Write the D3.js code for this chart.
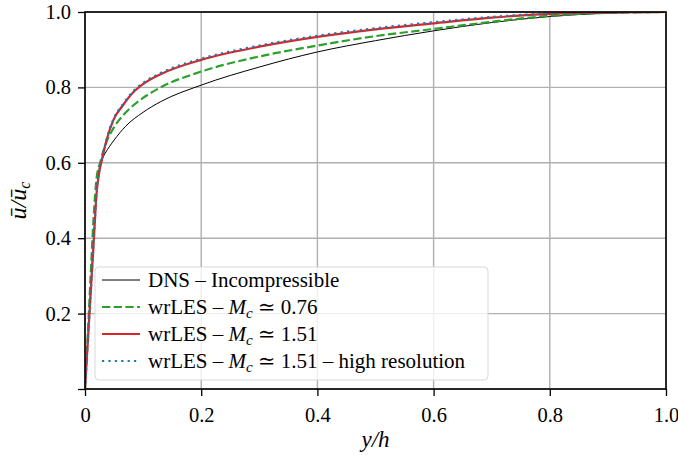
<!DOCTYPE html>
<html>
<head>
<meta charset="utf-8">
<script src="https://cdn.jsdelivr.net/npm/d3@7"></script>
<style>
  body { margin: 0; background: #fff; }
  text { font-family: "Liberation Serif", "DejaVu Serif", serif; fill: #000; }
</style>
</head>
<body>
<div id="wrapper"></div>
<script>
// y/h positions and velocity profiles
const dnsX   = [0, 0.005, 0.01, 0.015, 0.02, 0.023, 0.026, 0.03, 0.035, 0.05, 0.07, 0.1, 0.13, 0.2, 0.3, 0.4, 0.5, 0.6, 0.7, 0.8, 0.9, 1.0];
const dnsU   = [0, 0.13, 0.27, 0.40, 0.52, 0.568, 0.598, 0.612, 0.626, 0.66, 0.697, 0.734, 0.762, 0.806, 0.854, 0.894, 0.924, 0.950, 0.972, 0.988, 0.997, 1.0];

const les076X = [0, 0.005, 0.01, 0.015, 0.02, 0.026, 0.034, 0.049, 0.065, 0.08, 0.1, 0.13, 0.2, 0.3, 0.4, 0.5, 0.6, 0.7, 0.8, 0.9, 1.0];
const les076U = [0, 0.15, 0.31, 0.46, 0.56, 0.60, 0.643, 0.692, 0.725, 0.748, 0.772, 0.80, 0.842, 0.882, 0.911, 0.936, 0.955, 0.974, 0.990, 0.998, 1.0];

const les151X = [0, 0.005, 0.01, 0.015, 0.02, 0.025, 0.029, 0.037, 0.049, 0.065, 0.083, 0.1, 0.13, 0.2, 0.3, 0.4, 0.5, 0.6, 0.7, 0.8, 0.9, 1.0];
const les151U = [0, 0.13, 0.26, 0.39, 0.52, 0.58, 0.607, 0.66, 0.714, 0.752, 0.787, 0.809, 0.835, 0.873, 0.908, 0.934, 0.954, 0.970, 0.985, 0.995, 0.999, 1.0];

const les151hrX = [0, 0.005, 0.01, 0.015, 0.02, 0.025, 0.029, 0.037, 0.049, 0.065, 0.083, 0.1, 0.13, 0.2, 0.3, 0.4, 0.5, 0.6, 0.7, 0.8, 0.9, 1.0];
const les151hrU = [0, 0.13, 0.26, 0.39, 0.52, 0.582, 0.609, 0.662, 0.716, 0.755, 0.790, 0.812, 0.838, 0.876, 0.911, 0.937, 0.957, 0.973, 0.987, 0.996, 0.999, 1.0];

const xTicks = [0, 0.2, 0.4, 0.6, 0.8, 1.0];
const yTicks = [0, 0.2, 0.4, 0.6, 0.8, 1.0];

const series = [
  {name: "dns",  xs: dnsX,      us: dnsU,      color: "#000000", width: 1,   dash: null,      label: ["DNS – Incompressible"]},
  {name: "m076", xs: les076X,   us: les076U,   color: "#2ca02c", width: 2.2, dash: "8.3,3.4", label: ["wrLES – ", "0.76"]},
  {name: "m151", xs: les151X,   us: les151U,   color: "#d62728", width: 2.2, dash: null,      label: ["wrLES – ", "1.51"]},
  {name: "hr",   xs: les151hrX, us: les151hrU, color: "#1f77b4", width: 2.2, dash: "2.2,4.2", label: ["wrLES – ", "1.51 – high resolution"]}
];

const dimension = {
  width: 678,
  height: 455,
  margin: {top: 12, right: 12, bottom: 66, left: 85}
};
dimension.boundedWidth = dimension.width - dimension.margin.left - dimension.margin.right;
dimension.boundedHeight = dimension.height - dimension.margin.top - dimension.margin.bottom;

const svg = d3.select("#wrapper")
  .append("svg")
  .attr("width", dimension.width)
  .attr("height", dimension.height);

const bounds = svg.append("g")
  .attr("transform", `translate(${dimension.margin.left},${dimension.margin.top})`);

const x = d3.scaleLinear().domain([0, 1]).range([0, dimension.boundedWidth]);
const y = d3.scaleLinear().domain([0, 1]).range([dimension.boundedHeight, 0]);

// grid
bounds.append("g")
  .selectAll("line")
  .data(xTicks)
  .enter()
  .append("line")
  .attr("x1", d => x(d)).attr("x2", d => x(d))
  .attr("y1", 0).attr("y2", dimension.boundedHeight)
  .attr("stroke", "#b0b0b0")
  .attr("stroke-width", 1.4);

bounds.append("g")
  .selectAll("line")
  .data(yTicks)
  .enter()
  .append("line")
  .attr("x1", 0).attr("x2", dimension.boundedWidth)
  .attr("y1", d => y(d)).attr("y2", d => y(d))
  .attr("stroke", "#b0b0b0")
  .attr("stroke-width", 1.4);

// curves
bounds.append("clipPath").attr("id", "clip")
  .append("rect")
  .attr("width", dimension.boundedWidth)
  .attr("height", dimension.boundedHeight);

const line = d3.line()
  .x(d => x(d[0]))
  .y(d => y(d[1]))
  .curve(d3.curveMonotoneX);

series.forEach(s => {
  const pts = s.xs.map((v, i) => [v, s.us[i]]);
  bounds.append("path")
    .attr("clip-path", "url(#clip)")
    .attr("d", line(pts))
    .attr("fill", "none")
    .attr("stroke", s.color)
    .attr("stroke-width", s.width)
    .attr("stroke-dasharray", s.dash);
});

// axes
const xAxis = d3.axisBottom(x)
  .tickValues(xTicks)
  .tickSize(7)
  .tickSizeOuter(0)
  .tickPadding(11)
  .tickFormat(d => d === 0 ? "0" : d.toFixed(1));

const yAxis = d3.axisLeft(y)
  .tickValues(yTicks)
  .tickSize(7)
  .tickSizeOuter(0)
  .tickPadding(7)
  .tickFormat(d => d === 0 ? "" : d.toFixed(1));

const gx = bounds.append("g")
  .attr("transform", `translate(0,${dimension.boundedHeight})`)
  .call(xAxis);
const gy = bounds.append("g").call(yAxis);

[gx, gy].forEach(g => {
  g.attr("font-family", null).attr("font-size", null);
  g.select(".domain").remove();
  g.selectAll(".tick line").attr("stroke", "#000").attr("stroke-width", 1.3);
  g.selectAll(".tick text")
    .style("font-size", "20.5px")
    .attr("fill", "#000");
});

// frame
bounds.append("rect")
  .attr("width", dimension.boundedWidth)
  .attr("height", dimension.boundedHeight)
  .attr("fill", "none")
  .attr("stroke", "#000")
  .attr("stroke-width", 1.6);

// axis labels
svg.append("text")
  .attr("x", dimension.margin.left + dimension.boundedWidth / 2)
  .attr("y", 447)
  .style("text-anchor", "middle")
  .style("font-size", "23px")
  .style("font-style", "italic")
  .text("y/h");

const yl = svg.append("text")
  .attr("transform", `translate(26,${dimension.margin.top + dimension.boundedHeight / 2}) rotate(-90)`)
  .style("text-anchor", "middle")
  .style("font-size", "24px")
  .style("font-style", "italic");
yl.append("tspan").text("ū/ū");
yl.append("tspan").attr("baseline-shift", "-25%").style("font-size", "16px").text("c");

// legend
const legend = svg.append("g").attr("transform", "translate(95,267)");
legend.append("rect")
  .attr("width", 393)
  .attr("height", 113)
  .attr("rx", 4)
  .attr("fill", "#fff")
  .attr("fill-opacity", 0.8)
  .attr("stroke", "#d9d9d9")
  .attr("stroke-width", 1);

const rows = legend.selectAll("g.row")
  .data(series)
  .enter()
  .append("g")
  .attr("class", "row")
  .attr("transform", (d, i) => `translate(0,${13 + i * 27})`);

rows.append("line")
  .attr("x1", 7).attr("x2", 45)
  .attr("y1", 0).attr("y2", 0)
  .attr("stroke", d => d.color)
  .attr("stroke-width", d => d.width)
  .attr("stroke-dasharray", d => d.dash);

rows.each(function(d) {
  const t = d3.select(this).append("text")
    .attr("x", 53)
    .attr("y", 7)
    .style("font-size", "21px");
  if (d.label.length === 1) {
    t.text(d.label[0]);
  } else {
    t.append("tspan").text(d.label[0]);
    t.append("tspan").style("font-style", "italic").text("M");
    t.append("tspan").attr("baseline-shift", "-25%").style("font-size", "15px").style("font-style", "italic").text("c");
    t.append("tspan").text(" ≃ " + d.label[1]);
  }
});
</script>
</body>
</html>
